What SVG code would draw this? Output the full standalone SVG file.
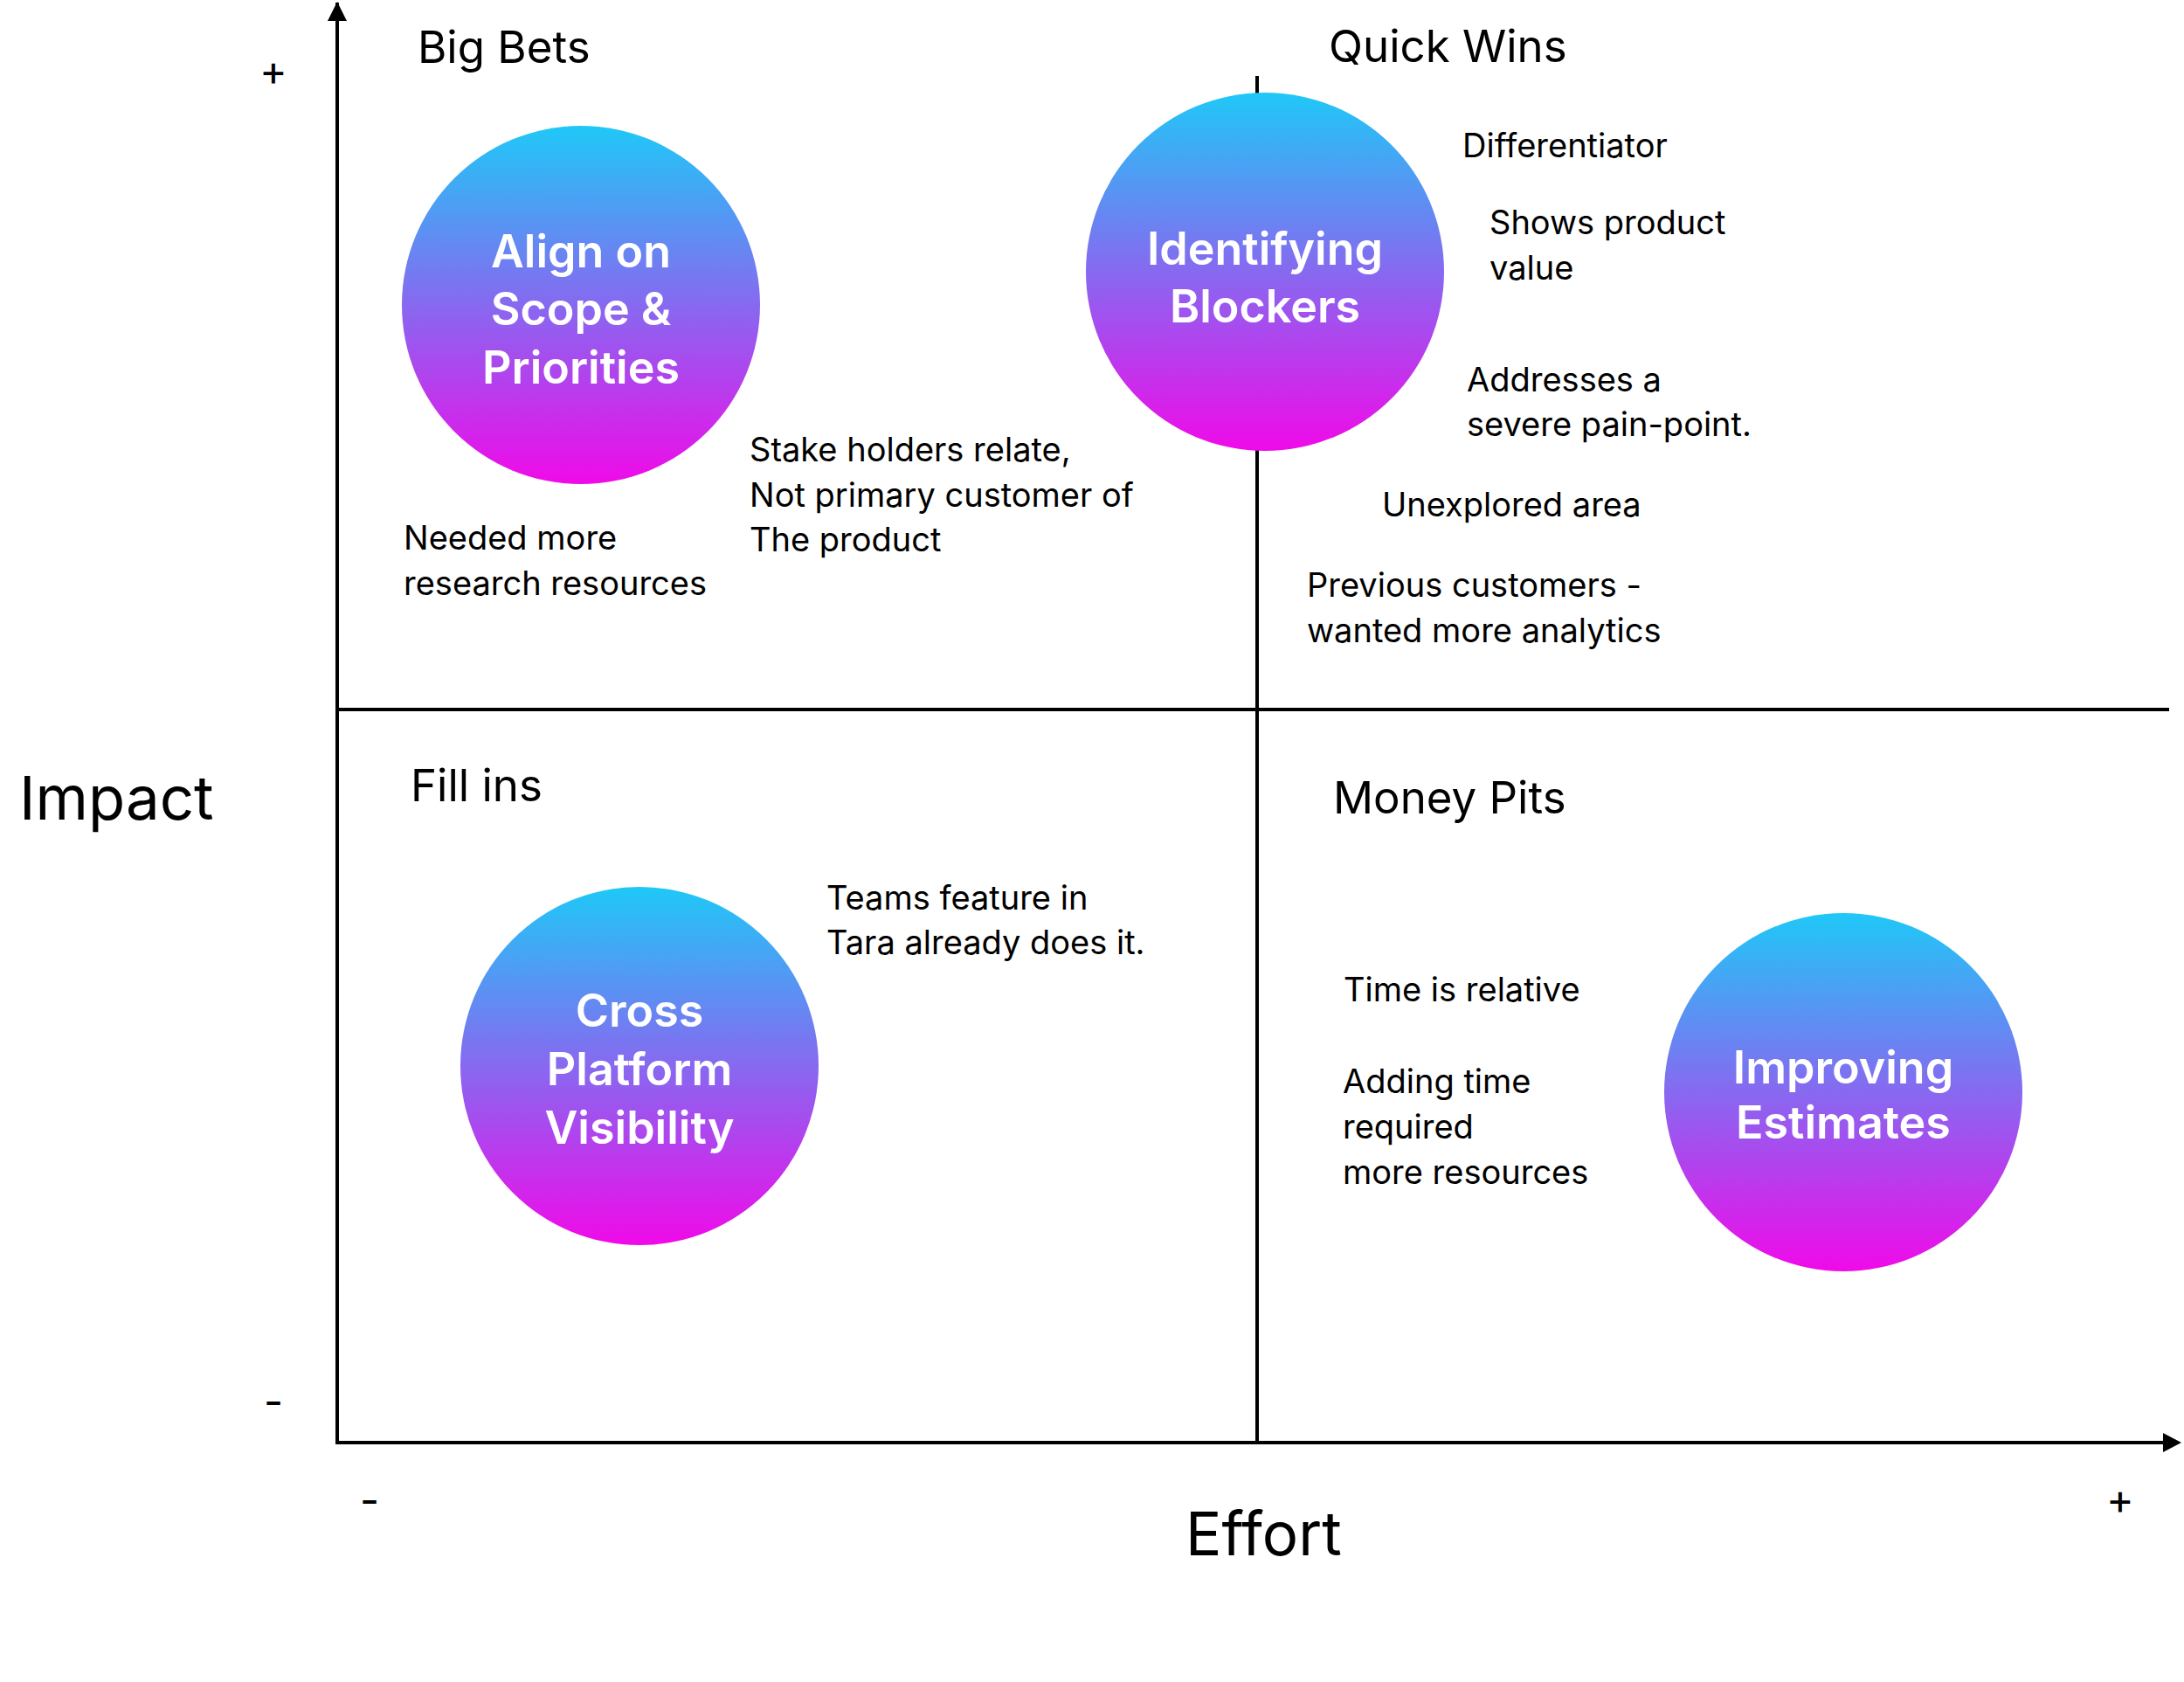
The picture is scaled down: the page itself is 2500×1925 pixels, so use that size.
<svg xmlns="http://www.w3.org/2000/svg" width="2500" height="1925" viewBox="0 0 2500 1925">
<style>
.t{font-family:Inter,"Liberation Sans",sans-serif;fill:#000}
.body{font-size:38px}
.title{font-size:51px}
.axis{font-size:69px}
.sign{font-size:48px}
.ct{font-family:Inter,"Liberation Sans",sans-serif;font-size:52px;font-weight:600;fill:#fff;text-anchor:middle}
.ln{stroke:#000;stroke-width:4;fill:none}
</style>
<defs>
<linearGradient id="g" x1="0" y1="0" x2="0" y2="1">
<stop offset="0" stop-color="#1FC8F7"/>
<stop offset="0.5" stop-color="#8769F0"/>
<stop offset="1" stop-color="#F00AE9"/>
</linearGradient>
</defs>
<rect width="2500" height="1925" fill="#fff"/>
<g id="connectors">
<line class="ln" x1="386" y1="1651" x2="386" y2="3"/>
<path d="M375,24 L386,2 L397,24 Z" fill="#000"/>
<line class="ln" x1="384" y1="1651" x2="2478" y2="1651"/>
<path d="M2476,1640 L2497,1651 L2476,1662 Z" fill="#000"/>
<line class="ln" x1="1439" y1="87" x2="1439" y2="1651"/>
<line class="ln" x1="386" y1="812" x2="2483" y2="812"/>
</g>
<g id="labels">
<text class="t axis" x="22" y="938">Impact</text>
<text class="t axis" x="1357" y="1780" font-size="67">Effort</text>
<text class="t sign" x="313" y="98" text-anchor="middle">+</text>
<text class="t sign" x="313" y="1621" text-anchor="middle">-</text>
<text class="t sign" x="423" y="1734" text-anchor="middle">-</text>
<text class="t sign" x="2427" y="1733" text-anchor="middle">+</text>
<text class="t title" x="478" y="72">Big Bets</text>
<text class="t title" x="1521" y="71">Quick Wins</text>
<text class="t title" x="470" y="917">Fill ins</text>
<text class="t title" x="1526" y="931">Money Pits</text>
</g>
<g id="node-align">
<circle cx="665" cy="349" r="205" fill="url(#g)"/>
<text class="ct" x="665" y="306">Align on</text>
<text class="ct" x="665" y="372">Scope &amp;</text>
<text class="ct" x="665" y="439">Priorities</text>
</g>
<g id="node-blockers">
<circle cx="1448" cy="311" r="205" fill="url(#g)"/>
<text class="ct" x="1448" y="303">Identifying</text>
<text class="ct" x="1448" y="369">Blockers</text>
</g>
<g id="node-cross">
<circle cx="732" cy="1220" r="205" fill="url(#g)"/>
<text class="ct" x="732" y="1175">Cross</text>
<text class="ct" x="732" y="1242">Platform</text>
<text class="ct" x="732" y="1309">Visibility</text>
</g>
<g id="node-estimates">
<circle cx="2110" cy="1250" r="205" fill="url(#g)"/>
<text class="ct" x="2110" y="1240">Improving</text>
<text class="ct" x="2110" y="1303">Estimates</text>
</g>
<g id="notes">
<text class="t body" x="462" y="629">Needed more</text>
<text class="t body" x="462" y="681">research resources</text>
<text class="t body" x="858" y="528">Stake holders relate,</text>
<text class="t body" x="858" y="580">Not primary customer of</text>
<text class="t body" x="858" y="631">The product</text>
<text class="t body" x="1674" y="180">Differentiator</text>
<text class="t body" x="1705" y="268">Shows product</text>
<text class="t body" x="1705" y="320">value</text>
<text class="t body" x="1679" y="448">Addresses a</text>
<text class="t body" x="1679" y="499">severe pain-point.</text>
<text class="t body" x="1582" y="591">Unexplored area</text>
<text class="t body" x="1496" y="683">Previous customers -</text>
<text class="t body" x="1496" y="735">wanted more analytics</text>
<text class="t body" x="946" y="1041">Teams feature in</text>
<text class="t body" x="946" y="1092">Tara already does it.</text>
<text class="t body" x="1538" y="1146">Time is relative</text>
<text class="t body" x="1537" y="1251">Adding time</text>
<text class="t body" x="1537" y="1303">required</text>
<text class="t body" x="1537" y="1355">more resources</text>
</g>
</svg>
